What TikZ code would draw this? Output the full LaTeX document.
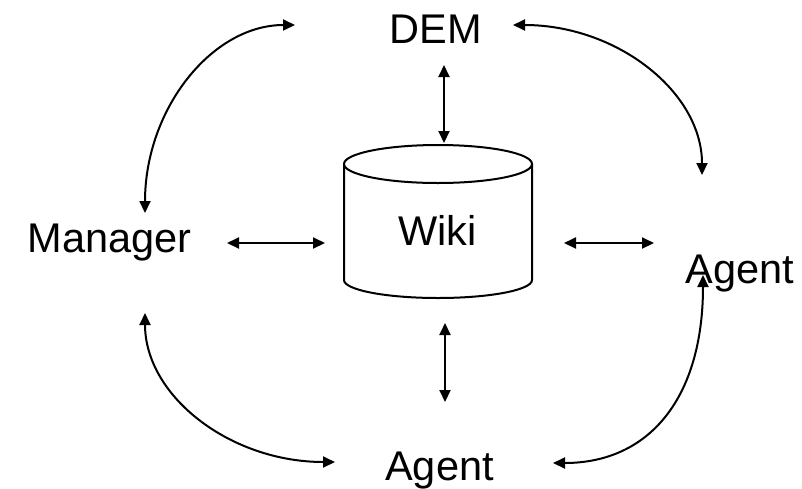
\documentclass[tikz,border=0pt]{standalone}
\usepackage{fontspec}
\setmainfont{Liberation Sans}
\usetikzlibrary{arrows.meta}
\begin{document}
\begin{tikzpicture}[x=1pt,y=-1pt,
  lbl/.style={anchor=base,inner sep=0pt,font=\fontsize{41.5}{48}\selectfont},
  conn/.style={line width=2pt,{Triangle[length=12pt,width=11pt]}-{Triangle[length=12pt,width=11pt]}},
  cyl/.style={line width=2pt,fill=white}]
\useasboundingbox (0,0) rectangle (802,488);
% cylinder
\draw[cyl] (344,164) -- (344,280) arc[start angle=180,end angle=360,x radius=94pt,y radius=18pt] -- (532,164);
\draw[cyl] (438,164) ellipse[x radius=94pt,y radius=19pt];
\node[lbl] (wiki) at (437.5,245) {Wiki};
\node[lbl] (dem) at (435.5,43) {DEM};
\node[lbl] (manager) at (109.5,252) {Manager};
\node[lbl] (agentr) at (740,283) {Agent};
\node[lbl] (agentb) at (439.5,480) {Agent};
% endpoints
\coordinate (d1) at (444,65);  \coordinate (d2) at (444,143);
\coordinate (m1) at (227,243); \coordinate (m2) at (325,243);
\coordinate (r1) at (564,243); \coordinate (r2) at (654,243);
\coordinate (b1) at (445,323); \coordinate (b2) at (445,402);
\coordinate (tl1) at (145,213); \coordinate (tl2) at (295,25);
\coordinate (tr1) at (513,25);  \coordinate (tr2) at (702,175);
\coordinate (bl1) at (145,313); \coordinate (bl2) at (335,462);
\coordinate (br1) at (553,463); \coordinate (br2) at (703,275);
\draw[conn] (d1) -- (d2);
\draw[conn] (m1) -- (m2);
\draw[conn] (r1) -- (r2);
\draw[conn] (b1) -- (b2);
\draw[conn] (tl1) .. controls (145,109) and (212,25) .. (tl2);
\draw[conn] (tr1) .. controls (617,25) and (702,92) .. (tr2);
\draw[conn] (bl1) .. controls (145,396) and (230,462) .. (bl2);
\draw[conn] (br1) .. controls (650,463) and (703,397) .. (br2);
\end{tikzpicture}
\end{document}
